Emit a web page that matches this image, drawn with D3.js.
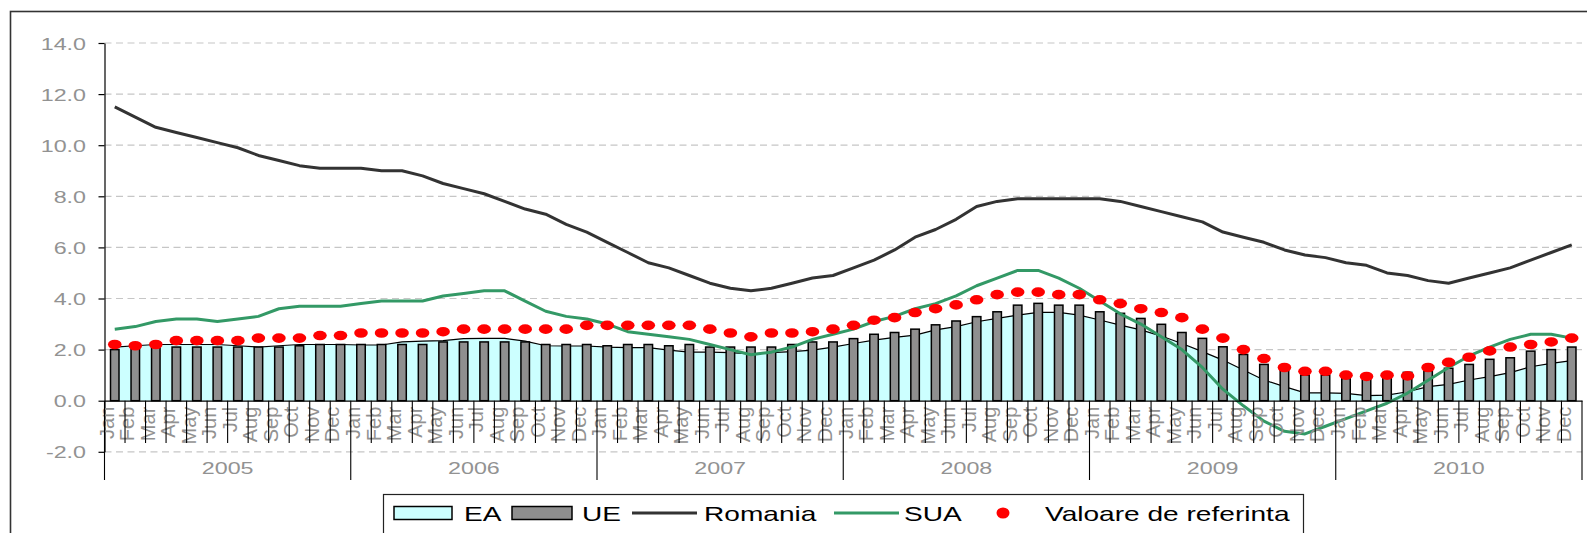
<!DOCTYPE html>
<html><head><meta charset="utf-8">
<script src="https://cdn.jsdelivr.net/npm/d3@7/dist/d3.min.js"></script>
<style>
html,body{margin:0;padding:0;background:#fff;}
svg{display:block;font-family:"Liberation Sans",Arial,sans-serif;}
</style></head>
<body>
<svg id="chart" width="1587" height="533"></svg>
<script>
const monthNames = ["Jan","Feb","Mar","Apr","May","Jun","Jul","Aug","Sep","Oct","Nov","Dec"];
const years = ["2005","2006","2007","2008","2009","2010"];
const yTicks = [-2,0,2,4,6,8,10,12,14];

const EA = [
 2.1,2.15,2.2,2.2,2.2,2.2,2.15,2.1,2.15,2.2,2.2,2.2,
 2.18,2.18,2.3,2.33,2.35,2.43,2.44,2.44,2.33,2.15,2.14,2.14,
 2.1,2.08,2.08,1.98,1.9,1.9,1.88,1.83,1.88,1.92,1.98,2.1,
 2.24,2.37,2.48,2.57,2.77,2.9,3.09,3.22,3.35,3.46,3.46,3.35,
 3.16,2.96,2.77,2.53,2.24,1.92,1.59,1.2,0.81,0.55,0.31,0.31,
 0.29,0.2,0.22,0.35,0.55,0.64,0.81,0.94,1.1,1.33,1.46,1.57];
const UE = [
 2.0,2.1,2.1,2.1,2.1,2.1,2.1,2.1,2.1,2.15,2.2,2.2,
 2.2,2.2,2.2,2.2,2.3,2.3,2.3,2.3,2.3,2.2,2.2,2.2,
 2.15,2.2,2.2,2.15,2.2,2.1,2.1,2.1,2.1,2.2,2.3,2.3,
 2.43,2.6,2.67,2.8,2.97,3.12,3.29,3.48,3.74,3.81,3.74,3.74,
 3.48,3.42,3.22,2.99,2.67,2.44,2.11,1.81,1.42,1.2,1.0,1.0,
 0.87,0.87,0.9,1.11,1.17,1.27,1.42,1.62,1.68,1.94,2.0,2.1];
const Romania = [
 11.5,11.1,10.7,10.5,10.3,10.1,9.9,9.6,9.4,9.2,9.1,9.1,
 9.1,9.0,9.0,8.8,8.5,8.3,8.1,7.8,7.5,7.3,6.9,6.6,
 6.2,5.8,5.4,5.2,4.9,4.6,4.4,4.3,4.4,4.6,4.8,4.9,
 5.2,5.5,5.9,6.4,6.7,7.1,7.6,7.8,7.9,7.9,7.9,7.9,
 7.9,7.8,7.6,7.4,7.2,7.0,6.6,6.4,6.2,5.9,5.7,5.6,
 5.4,5.3,5.0,4.9,4.7,4.6,4.8,5.0,5.2,5.5,5.8,6.1];
const SUA = [
 2.8,2.9,3.1,3.2,3.2,3.1,3.2,3.3,3.6,3.7,3.7,3.7,
 3.8,3.9,3.9,3.9,4.1,4.2,4.3,4.3,3.9,3.5,3.3,3.2,
 3.0,2.7,2.6,2.5,2.4,2.2,2.0,1.8,1.9,2.1,2.4,2.6,
 2.8,3.1,3.3,3.6,3.8,4.1,4.5,4.8,5.1,5.1,4.8,4.4,
 3.9,3.4,3.0,2.5,2.0,1.3,0.45,-0.2,-0.8,-1.2,-1.3,-1.0,
 -0.7,-0.4,-0.1,0.3,0.8,1.3,1.75,2.1,2.4,2.6,2.6,2.45];
const Referinta = [
 2.2,2.15,2.2,2.35,2.35,2.35,2.35,2.45,2.45,2.45,2.55,2.55,
 2.65,2.65,2.65,2.65,2.7,2.8,2.8,2.8,2.8,2.8,2.8,2.95,
 2.95,2.95,2.95,2.95,2.95,2.8,2.65,2.5,2.65,2.65,2.7,2.8,
 2.95,3.15,3.25,3.45,3.6,3.75,3.95,4.15,4.25,4.25,4.15,4.15,
 3.95,3.8,3.6,3.45,3.25,2.8,2.45,2.0,1.65,1.3,1.15,1.15,
 1.0,0.95,1.0,0.97,1.3,1.5,1.7,1.95,2.1,2.2,2.3,2.45];

const legendItems = ["EA","UE","Romania","SUA","Valoare de referinta"];

const SX = 1.37; // horizontal text stretch of the original
const svg = d3.select("#chart");
const X0 = 104.5, X1 = 1582;
const idx = d3.range(years.length * 12);
const x = d3.scaleBand().domain(idx).range([X0, X1]).padding(0);
const bw = x.bandwidth();
const cx = i => x(i) + bw / 2;
const y = d3.scaleLinear().domain([-2, 14]).range([451.8, 43]);
const xYear = d3.scaleBand().domain(years).range([X0, X1]).padding(0);

// outer frame
svg.append("rect").attr("x",10.5).attr("y",11.5).attr("width",1620).attr("height",560)
  .attr("fill","none").attr("stroke","#333").attr("stroke-width",1.6);

// gridlines
svg.append("g").selectAll("line").data(yTicks.filter(d => d !== 0)).join("line")
  .attr("x1", X0).attr("x2", X1).attr("y1", d => y(d)).attr("y2", d => y(d))
  .attr("stroke", "#c6c6c6").attr("stroke-width", 1.2).attr("stroke-dasharray", "7,4.5");

// EA area
const area = d3.area().x((d,i) => cx(i)).y0(y(0)).y1(d => y(d));
svg.append("path").datum(EA).attr("d", area).attr("fill", "#ccffff");
svg.append("path").datum(EA).attr("d", d3.line().x((d,i) => cx(i)).y(d => y(d)))
  .attr("fill","none").attr("stroke","#000").attr("stroke-width",1.2);

// UE bars
const barW = 8.5;
svg.append("g").selectAll("rect").data(UE).join("rect")
  .attr("x", (d,i) => cx(i) - barW/2).attr("width", barW)
  .attr("y", d => y(d)).attr("height", d => y(0) - y(d))
  .attr("fill", "#8f8f8f").attr("stroke", "#000").attr("stroke-width", 1.5);

// lines
const line = d3.line().x((d,i) => cx(i)).y(d => y(d));
svg.append("path").datum(Romania).attr("d", line).attr("fill","none")
  .attr("stroke","#333").attr("stroke-width",3).attr("stroke-linejoin","round");
svg.append("path").datum(SUA).attr("d", line).attr("fill","none")
  .attr("stroke","#339966").attr("stroke-width",3).attr("stroke-linejoin","round");

// reference dots
svg.append("g").selectAll("ellipse").data(Referinta).join("ellipse")
  .attr("cx", (d,i) => cx(i)).attr("cy", d => y(d)).attr("rx", 6.8).attr("ry", 4.8)
  .attr("fill", "#ff0000");

// Y axis
const fmt = d3.format(".1f");
const yAxis = d3.axisLeft(y).tickValues(yTicks).tickSize(6).tickSizeOuter(0)
  .tickFormat(d => fmt(d).replace("\u2212", "-"));
const gy = svg.append("g").attr("transform", `translate(${X0},0)`).call(yAxis);
gy.select(".domain").attr("stroke","#000").attr("stroke-width",1.2);
gy.selectAll(".tick line").attr("stroke","#000").attr("stroke-width",1.2);
gy.selectAll(".tick text").attr("x", null).attr("dy", null)
  .attr("transform", `translate(-18.5,6) scale(${SX},1)`)
  .attr("font-size", 17).attr("fill", "#929292").attr("text-anchor","end");

// X axis (zero line) with month labels
const xAxis = d3.axisBottom(x).tickSize(0).tickSizeOuter(0)
  .tickFormat(i => monthNames[i % 12]);
const gx = svg.append("g").attr("transform", `translate(0,${y(0)})`).call(xAxis);
gx.select(".domain").attr("stroke","#000").attr("stroke-width",1.2);
gx.selectAll(".tick text").attr("y", null).attr("dy", null)
  .attr("transform", "translate(-1,6) rotate(-90)")
  .attr("text-anchor","end").attr("font-size", 20).attr("fill","#929292");

// category tick marks
const bounds = d3.range(idx.length + 1);
const bx = k => k < idx.length ? x(k) : X1;
svg.append("g").selectAll("line").data(bounds).join("line")
  .attr("x1", k => bx(k)).attr("x2", k => bx(k))
  .attr("y1", y(0)).attr("y2", k => (k % 12 === 0) ? 480 : 443)
  .attr("stroke", "#000").attr("stroke-width", 1.1);

// year labels
svg.append("g").selectAll("text").data(years).join("text")
  .attr("transform", d => `translate(${xYear(d) + xYear.bandwidth()/2},474) scale(${SX},1)`)
  .attr("text-anchor","middle").attr("font-size",17).attr("fill","#929292").text(d => d);

// legend
const lg = svg.append("g");
lg.append("rect").attr("x",383.5).attr("y",494.5).attr("width",920).attr("height",60)
  .attr("fill","#fff").attr("stroke","#222").attr("stroke-width",1.2);
const ly = 513;
lg.append("rect").attr("x",394).attr("y",ly-6.5).attr("width",58).attr("height",13)
  .attr("fill","#ccffff").attr("stroke","#000").attr("stroke-width",1.5);
lg.append("rect").attr("x",512).attr("y",ly-6.5).attr("width",60).attr("height",13)
  .attr("fill","#8f8f8f").attr("stroke","#000").attr("stroke-width",1.5);
lg.append("line").attr("x1",632).attr("x2",697).attr("y1",ly).attr("y2",ly)
  .attr("stroke","#333").attr("stroke-width",3);
lg.append("line").attr("x1",834).attr("x2",899).attr("y1",ly).attr("y2",ly)
  .attr("stroke","#339966").attr("stroke-width",3);
lg.append("ellipse").attr("cx",1003).attr("cy",ly).attr("rx",6.5).attr("ry",5.5).attr("fill","#ff0000");
const textX = [464, 582, 704, 904, 1045];
lg.selectAll("text.lt").data(legendItems).join("text").attr("class","lt")
  .attr("transform", (d,i) => `translate(${textX[i]},${ly+7.5}) scale(${SX},1)`)
  .attr("font-size", 20.5).attr("fill","#000").text(d => d);
</script>
</body></html>
